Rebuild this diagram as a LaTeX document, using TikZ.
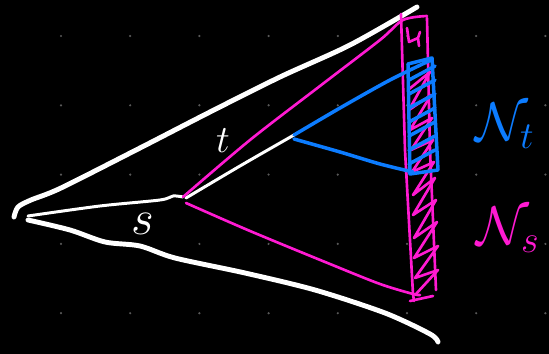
\RequirePackage{fix-cm}
\documentclass[tikz,border=0pt]{standalone}
\definecolor{pinkink}{RGB}{255,26,210}
\definecolor{blueink}{RGB}{12,124,255}
\begin{document}
\begin{tikzpicture}[x=0.02cm, y=-0.02cm,
        chalk/.style={white, line width=2.8pt, line cap=round, line join=round},
        thinchalk/.style={white, line width=1.7pt, line cap=round, line join=round},
        pinkline/.style={pinkink, line width=1.5pt, line cap=round, line join=round},
        blueline/.style={blueink, line width=2pt, line cap=round, line join=round}]
        % Background and dot grid
        \fill[black] (0,0) rectangle (549,354);
        \useasboundingbox (0,0) rectangle (549,354);
        \foreach \i in {0,...,7}
            \foreach \j in {0,...,4}
                \fill[black!65!white] ({61+69.2*\i},{36+69.3*\j}) circle (0.7pt);
        
        % Key points
        \coordinate (tip) at (28,216);
        \coordinate (apex) at (183,197);
        \coordinate (tEnd) at (294,135);
        \coordinate (topL) at (403,20);
        \coordinate (botL) at (413,294);
        
        % Outer white cone
        \draw[chalk] plot[smooth] coordinates {(14,217) (18,207) (31,200) (61,188) (140,148) (210,112) (280,77) (350,45) (417,7)};
        \draw[chalk] plot[smooth] coordinates {(28,220) (70,230) (105,242) (140,246) (175,258) (245,273) (315,290) (385,313) (430,334) (438,342)};
        
        % Paths s and t
        \draw[thinchalk] plot[smooth] coordinates {(tip) (100,206) (160,200) (173,196) (apex)};
        \draw[thinchalk] plot[smooth] coordinates {(186,198) (240,166) (tEnd)};
        
        % Pink cone from the apex
        \draw[pinkline] plot[smooth] coordinates {(apex) (250,140) (320,86) (380,40) (topL) (427,16)};
        \draw[pinkline] plot[smooth] coordinates {(186,203) (250,231) (330,264) (380,284) (botL) (420,295)};
        
        % Pink strip with hatching
        \draw[pinkline] (401,14) -- (405,150) -- (botL) -- (414,301);
        \draw[pinkline] (427,18) -- (430,150) -- (436,290);
        \draw[pinkline] (410,301) -- (433,296);
        \draw[pinkline] (407,28) -- (409,42) -- (418,38) -- (420,32) (418,38) -- (419,46);
        \draw[pinkline] (408,90) -- (430,72) -- (409,110) -- (431,95) -- (410,130)
            -- (432,118) -- (411,150) -- (433,140) -- (412,172) -- (434,162)
            -- (413,195) -- (435,178) -- (413,215) -- (436,200) -- (414,238)
            -- (437,222) -- (414,258) -- (438,246) -- (415,278) -- (438,270) -- (416,294);
        
        % Blue cone from the end of t
        \draw[blueline] plot[smooth] coordinates {(tEnd) (340,108) (390,80) (431,60)};
        \draw[blueline] plot[smooth] coordinates {(294,139) (340,152) (380,164) (413,172)};
        \draw[blueline] (408,64) -- (432,58) -- (438,170) -- (410,174) -- cycle;
        \foreach \y in {66,80,...,160}
            \draw[blueline] (409,\y+14) -- (435,\y);
        
        % Labels
        \node[text=white, font=\fontsize{22}{22}\selectfont] (tLab) at (223,141) {$t$};
        \node[text=white, font=\fontsize{28}{28}\selectfont] (sLab) at (143,224) {$s$};
        \node[text=blueink, font=\fontsize{31}{31}\selectfont] (Nt) at (505,126) {$\mathcal{N}_t$};
        \node[text=pinkink, font=\fontsize{31}{31}\selectfont] (Ns) at (508,230) {$\mathcal{N}_s$};
        
    \end{tikzpicture}
\end{document}
